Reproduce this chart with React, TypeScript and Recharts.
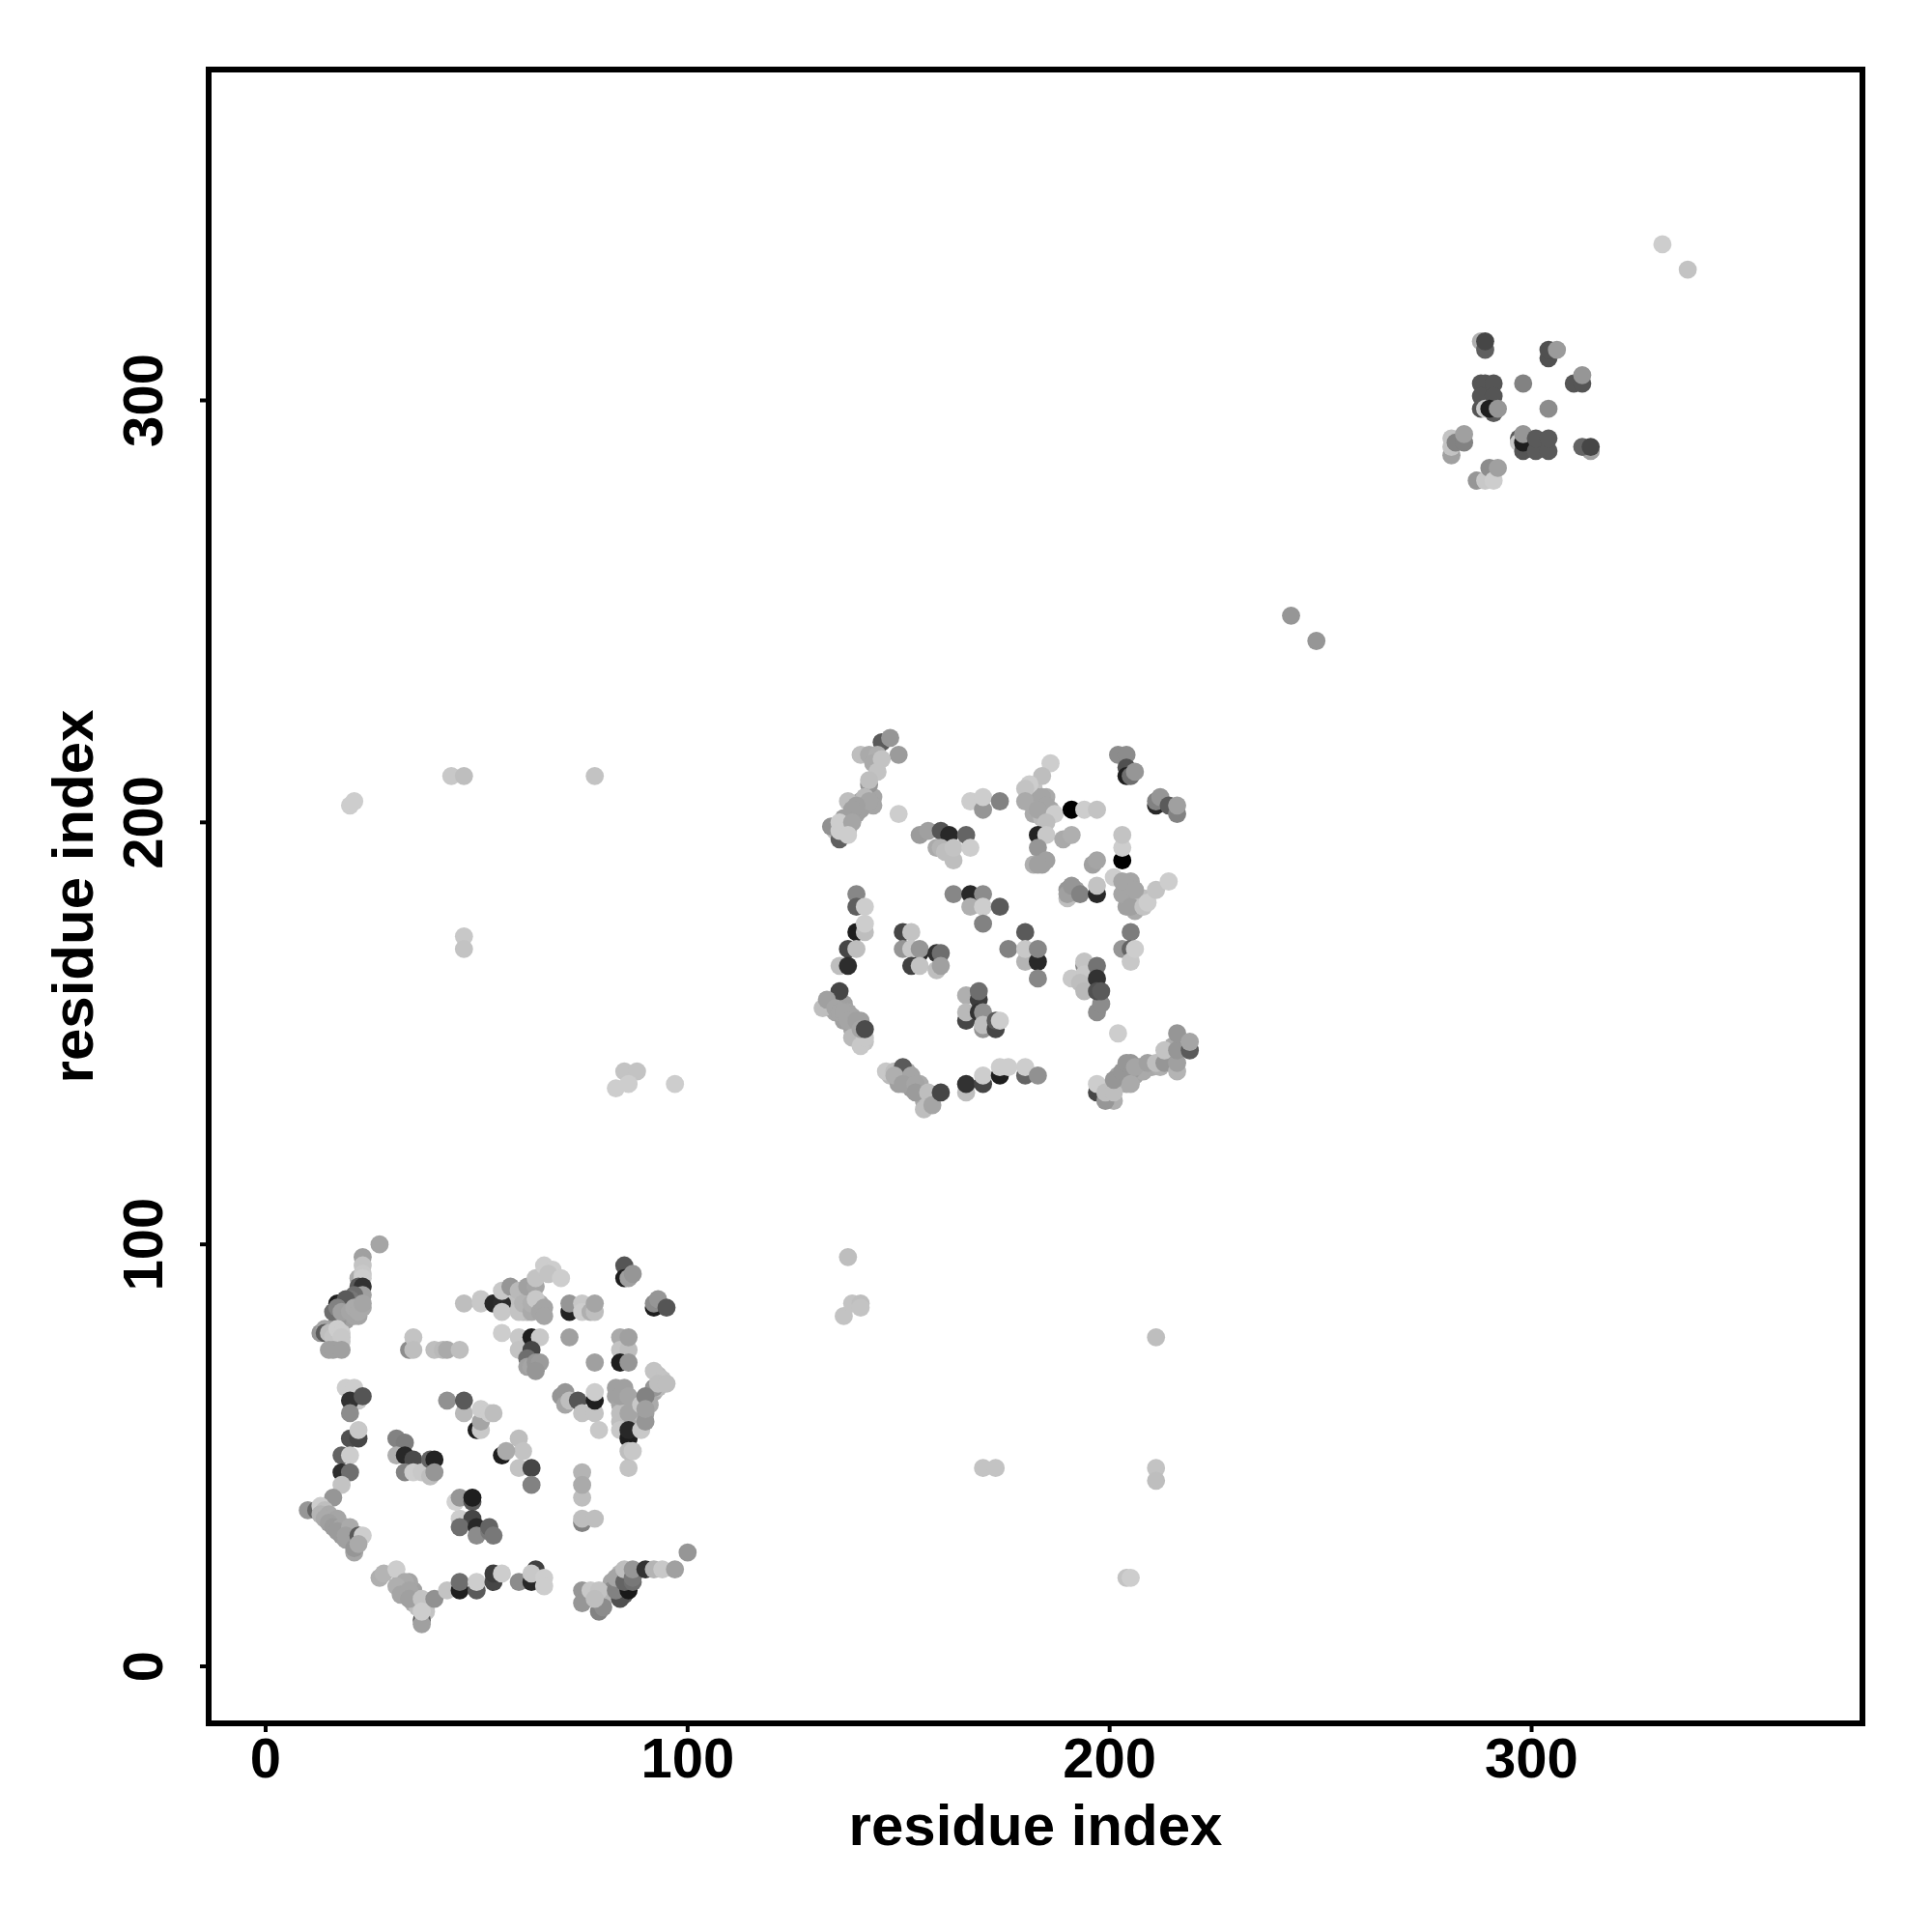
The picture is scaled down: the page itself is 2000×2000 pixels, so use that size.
import { ScatterChart, Scatter, XAxis, YAxis, ReferenceArea } from 'recharts'

// contacts as [residue i, residue j, grey level]
const strandContacts = [
  [141, 205, 165], [142, 204, 160], [144, 206, 165], [144, 204, 165], [141, 203, 160], [140, 202, 160], [138, 200, 165], [137, 199, 170],
  [136, 197, 200], [137, 197, 200], [138, 198, 190], [135, 198, 190],
  [19, 82, 160], [21, 83, 165], [23, 85, 170], [17, 82, 150], [19, 85, 150], [22, 83, 165], [16, 77, 200], [17, 77, 205], [17, 78, 205], [18, 77, 200],
  [14, 36, 165], [16, 35, 165], [15, 35, 160], [16, 34, 160], [17, 33, 155], [18, 31, 155], [19, 33, 170], [20, 31, 165], [19, 30, 160], [21, 30, 170],
  [33, 18, 160], [33, 17, 160], [35, 18, 160], [35, 15, 170], [36, 16, 185], [36, 14, 190], [38, 13, 195], [32, 20, 160], [34, 20, 165],
  [82, 20, 165], [82, 18, 140], [84, 22, 180], [84, 18, 120], [86, 20, 110], [85, 17, 90], [79, 15, 170], [78, 17, 190], [80, 17, 190], [80, 16, 180],
  [61, 88, 175], [60, 86, 185], [62, 86, 170], [62, 84, 180], [64, 85, 165], [65, 86, 170], [59, 86, 190], [61, 84, 190], [62, 88, 190], [63, 90, 160],
  [83, 64, 160], [84, 62, 165], [85, 62, 170], [86, 62, 165], [85, 65, 165], [84, 58, 190], [86, 58, 170], [85, 60, 170], [89, 60, 190], [90, 60, 160],
  [91, 64, 160], [91, 62, 170], [92, 65, 170], [93, 69, 190], [93, 66, 185],
  [134, 157, 165], [135, 155, 165], [137, 157, 160], [137, 153, 160], [138, 155, 165], [139, 154, 165], [139, 151, 165], [140, 150, 180], [141, 149, 195],
  [142, 148, 195], [139, 152, 160], [141, 153, 160],
  [148, 140, 185], [150, 140, 165], [152, 141, 165], [150, 138, 160], [152, 138, 160], [153, 137, 155], [155, 136, 160], [156, 135, 160], [156, 134, 165],
  [157, 134, 190], [155, 138, 170], [158, 135, 170],
  [200, 137, 190], [202, 138, 165], [202, 140, 165], [203, 139, 150], [204, 140, 150], [204, 138, 170], [206, 140, 165], [200, 135, 190], [201, 134, 175],
  [210, 142, 170], [212, 142, 175], [214, 145, 190], [214, 143, 190], [215, 147, 170], [215, 144, 160], [207, 142, 155], [208, 141, 170], [205, 141, 155],
  [181, 206, 170], [182, 208, 195], [182, 204, 170], [183, 206, 165], [184, 204, 165], [185, 206, 170], [186, 203, 170], [182, 202, 170], [184, 201, 185],
  [190, 184, 150], [191, 183, 160], [192, 184, 160],
  [204, 184, 160], [205, 183, 150], [204, 180, 160], [206, 181, 160], [207, 182, 170], [206, 179, 170], [205, 186, 165], [208, 182, 190],
]

const firstDomain = [
  [27, 100, 165], [23, 97, 160], [23, 95, 195], [22, 92, 170], [23, 93, 200], [23, 92, 205], [22, 90, 90], [23, 90, 50],
  [23, 88, 160], [21, 88, 110], [20, 87, 120], [17, 86, 30], [18, 86, 40], [19, 87, 90], [16, 84, 110], [17, 85, 130],
  [18, 84, 160], [20, 84, 165], [21, 85, 170], [22, 84, 170], [23, 86, 165],
  [13, 79, 150], [14, 80, 165], [14, 79, 90], [15, 79, 190], [16, 78, 195], [17, 80, 205], [18, 79, 205], [18, 78, 200],
  [15, 75, 160], [16, 75, 160], [18, 75, 160],
  [47, 86, 190], [51, 87, 200], [51, 86, 200], [54, 86, 40], [56, 86, 45], [56, 89, 200], [56, 84, 200], [58, 90, 150],
  [60, 89, 185], [60, 84, 195], [61, 86, 180], [62, 90, 160], [64, 90, 165], [64, 92, 195], [66, 95, 205], [68, 94, 205],
  [67, 93, 195], [70, 92, 205], [63, 84, 170], [63, 86, 175], [64, 87, 200], [65, 84, 165], [66, 85, 165], [66, 83, 165],
  [34, 75, 140], [35, 78, 195], [35, 75, 190], [40, 75, 190], [42, 75, 185], [43, 75, 170], [46, 75, 190],
  [19, 66, 205], [21, 66, 205], [22, 63, 200], [20, 63, 50], [23, 64, 85], [20, 60, 140],
  [20, 54, 80], [22, 54, 70], [22, 56, 200], [18, 50, 100], [20, 50, 205], [18, 46, 45], [20, 46, 110], [18, 43, 195],
  [16, 40, 150], [10, 37, 150], [12, 37, 100], [13, 38, 205], [14, 37, 190], [13, 36, 180], [15, 36, 170], [14, 35, 170],
  [17, 35, 165], [15, 34, 160], [16, 33, 155], [18, 33, 165], [17, 32, 155], [20, 33, 170], [19, 31, 160], [22, 31, 90],
  [23, 31, 205], [21, 27, 165], [21, 28, 150], [22, 29, 170],
  [31, 54, 130], [33, 53, 125], [31, 50, 175], [33, 50, 40], [35, 49, 75], [33, 46, 130], [35, 46, 205], [37, 46, 200],
  [39, 45, 190], [39, 49, 100], [40, 49, 35], [40, 46, 150],
  [43, 63, 145], [47, 60, 185], [47, 63, 90], [50, 56, 30], [51, 56, 200], [51, 58, 165], [51, 61, 205], [53, 60, 205], [54, 60, 190],
  [45, 39, 210], [46, 40, 150], [49, 39, 90], [49, 40, 30], [46, 35, 205], [49, 35, 70], [46, 33, 110], [50, 33, 40], [50, 31, 140],
  [53, 32, 120], [53, 33, 100], [54, 31, 120],
  [27, 21, 175], [28, 22, 180], [31, 23, 205], [33, 20, 170], [31, 19, 175], [32, 17, 165], [34, 18, 165], [34, 16, 160],
  [37, 11, 90], [37, 10, 160], [37, 16, 195], [37, 13, 205], [40, 16, 145], [43, 18, 195], [46, 18, 30], [46, 20, 110],
  [50, 18, 90], [50, 20, 205], [54, 20, 70], [54, 22, 60], [56, 22, 205], [60, 20, 140], [63, 20, 40], [64, 23, 65], [63, 22, 200],
  [66, 21, 205], [66, 19, 205],
  [85, 95, 85], [85, 92, 30], [86, 92, 160], [87, 93, 150], [92, 85, 30], [92, 86, 140], [93, 87, 150], [95, 85, 85],
  [72, 84, 35], [72, 86, 150], [75, 86, 200], [75, 84, 205], [77, 84, 175], [78, 84, 190], [78, 86, 165],
  [56, 79, 205], [60, 78, 200], [60, 75, 195], [63, 78, 30], [65, 78, 200], [63, 75, 70], [62, 73, 110], [62, 71, 160],
  [63, 71, 165], [64, 72, 150], [65, 72, 155], [64, 70, 150], [72, 78, 160], [78, 72, 160],
  [84, 78, 170], [84, 75, 195], [86, 75, 190], [86, 78, 160], [84, 72, 30], [86, 72, 150],
  [92, 70, 195], [94, 68, 195], [92, 66, 150], [93, 67, 190], [95, 67, 190],
  [70, 64, 150], [71, 65, 150], [71, 62, 165], [72, 63, 190], [74, 63, 85], [75, 60, 195], [78, 60, 195], [78, 63, 30], [78, 65, 205], [79, 56, 200],
  [83, 66, 160], [85, 66, 160], [84, 60, 190], [84, 64, 160], [86, 64, 165], [86, 60, 165], [84, 56, 200], [86, 54, 30], [86, 56, 40],
  [89, 56, 200], [90, 58, 150], [89, 62, 200], [90, 64, 130], [90, 61, 160], [86, 47, 195], [86, 51, 190], [87, 51, 200],
  [60, 54, 190], [61, 51, 195], [56, 50, 30], [57, 51, 170], [60, 47, 195], [63, 47, 70], [63, 43, 130],
  [75, 46, 180], [75, 40, 190], [75, 43, 170], [75, 34, 130], [75, 35, 190], [78, 35, 190],
  [75, 18, 150], [75, 15, 150], [79, 13, 130], [80, 14, 140], [77, 18, 200], [79, 18, 195], [78, 16, 190],
  [84, 16, 80], [83, 18, 130], [83, 21, 165], [86, 18, 25], [85, 20, 100], [87, 20, 110], [85, 23, 190], [87, 21, 120], [87, 23, 150],
  [90, 23, 50], [92, 23, 180], [94, 23, 200], [97, 23, 160], [100, 27, 150],
]

const secondDomain = [
  [146, 219, 90], [148, 220, 150], [150, 216, 155], [141, 216, 190], [143, 216, 170], [145, 216, 175], [144, 214, 170], [146, 215, 195],
  [145, 212, 195], [143, 209, 150], [143, 210, 190], [138, 205, 190], [142, 206, 185], [143, 205, 165], [140, 204, 160], [139, 203, 160],
  [137, 201, 160], [134, 199, 145], [136, 196, 95], [136, 198, 205], [136, 200, 205], [139, 200, 165], [138, 197, 205],
  [150, 202, 205],
  [155, 197, 155], [157, 198, 160], [160, 198, 85], [162, 197, 40], [166, 197, 100], [159, 194, 170], [160, 194, 180], [161, 193, 190],
  [163, 191, 190], [163, 194, 195], [167, 194, 205],
  [167, 205, 205], [170, 203, 150], [170, 206, 205], [174, 205, 130],
  [163, 183, 135], [167, 183, 40], [170, 183, 140], [167, 180, 175], [170, 180, 205], [174, 180, 90], [170, 176, 130], [176, 170, 130],
  [140, 183, 135], [140, 180, 95], [142, 180, 205], [140, 174, 30], [142, 174, 190], [142, 176, 205], [138, 170, 70], [140, 170, 190],
  [136, 166, 190], [138, 166, 45],
  [151, 174, 70], [153, 174, 195], [151, 170, 150], [155, 169, 40], [153, 170, 200], [155, 170, 150], [153, 166, 65], [155, 166, 195],
  [159, 169, 50], [160, 169, 110], [159, 165, 190], [160, 166, 160],
  [136, 160, 70], [132, 156, 190], [133, 158, 160], [135, 156, 165], [136, 155, 165], [137, 155, 165], [138, 153, 165], [140, 153, 160],
  [139, 149, 185], [141, 147, 200], [142, 149, 200], [141, 151, 165], [142, 151, 75],
  [166, 159, 175], [169, 158, 60], [169, 160, 110], [166, 153, 70], [166, 155, 185], [169, 155, 50], [170, 155, 145], [170, 151, 150], [170, 152, 190],
  [173, 151, 70], [173, 153, 90], [174, 153, 205],
  [147, 141, 200], [149, 141, 190], [151, 142, 90], [149, 140, 175], [153, 140, 165], [151, 138, 160], [154, 138, 165], [154, 136, 155],
  [156, 132, 190], [157, 136, 190], [158, 133, 165], [160, 136, 70],
  [166, 136, 190], [166, 138, 50], [170, 138, 70], [170, 140, 205], [174, 140, 30], [174, 142, 205], [176, 142, 205], [180, 140, 100], [180, 142, 205], [183, 140, 145],
  [186, 214, 205], [184, 211, 190], [181, 209, 205], [180, 208, 195], [180, 205, 170], [184, 206, 165], [185, 204, 165], [183, 203, 165],
  [187, 202, 205], [185, 200, 190],
  [191, 203, 0], [194, 203, 205], [197, 203, 195],
  [183, 197, 35], [185, 197, 200], [189, 196, 170], [191, 197, 175], [183, 194, 150], [182, 190, 175], [184, 190, 160], [185, 191, 160], [183, 190, 160],
  [202, 216, 140], [204, 216, 140], [204, 213, 80], [204, 211, 30], [205, 211, 110], [206, 212, 150],
  [211, 204, 40], [211, 205, 130], [212, 206, 150], [214, 204, 90], [216, 202, 130], [216, 204, 160],
  [203, 191, 0], [203, 194, 205], [203, 197, 195],
  [196, 190, 160], [197, 191, 165],
  [190, 182, 190], [190, 183, 160], [191, 185, 150], [193, 183, 130], [197, 183, 40], [197, 185, 195], [201, 187, 205], [203, 183, 165], [203, 186, 165],
  [205, 180, 160], [206, 184, 165], [208, 180, 195], [209, 181, 205], [211, 184, 195], [214, 186, 205],
  [180, 174, 90], [180, 167, 180], [180, 170, 200], [183, 167, 40], [183, 170, 135], [183, 163, 135],
  [205, 174, 125], [203, 170, 150], [205, 170, 100], [205, 167, 200], [206, 170, 205],
  [194, 166, 130], [194, 167, 195], [191, 163, 200], [194, 164, 200], [193, 162, 190], [194, 160, 185],
  [197, 166, 115], [197, 163, 50], [197, 155, 140], [198, 157, 140], [197, 160, 80], [198, 160, 90],
  [202, 150, 205],
  [197, 136, 70], [197, 138, 205], [199, 134, 150], [199, 136, 190], [201, 136, 190], [201, 139, 150], [203, 141, 150], [204, 143, 150], [205, 143, 150],
  [205, 138, 170], [206, 142, 165], [209, 143, 160], [211, 143, 190], [213, 143, 150], [213, 146, 195], [216, 141, 180], [216, 143, 160], [216, 146, 150], [216, 150, 150],
  [219, 146, 90], [219, 148, 165],
]

const thirdDomain = [
  [288, 314, 175], [289, 312, 95], [289, 314, 70], [304, 310, 80], [304, 312, 80], [306, 312, 155],
  [288, 304, 85], [289, 304, 85], [291, 304, 85], [288, 301, 85], [291, 301, 85], [288, 298, 85], [291, 297, 90], [289, 298, 200], [290, 298, 30], [292, 298, 150],
  [298, 304, 130], [304, 298, 140], [310, 304, 85], [312, 304, 85], [312, 306, 150],
  [281, 291, 195], [281, 287, 160], [281, 289, 195], [282, 290, 130], [284, 290, 130], [284, 292, 160],
  [297, 291, 90], [297, 290, 200], [298, 288, 85], [298, 290, 30], [298, 292, 150], [301, 288, 90], [301, 291, 90], [304, 288, 90], [304, 291, 90],
  [314, 288, 160], [312, 289, 100], [314, 289, 70],
  [287, 281, 150], [289, 281, 200], [290, 284, 140], [291, 281, 205], [292, 284, 160],
]

const strayContacts = [
  [331, 337, 205], [337, 331, 195], [243, 249, 150], [249, 243, 150],
  [20, 204, 205], [21, 205, 205], [44, 211, 200], [47, 211, 190], [78, 211, 195], [47, 173, 200], [47, 170, 195],
  [83, 137, 205], [85, 141, 195], [88, 141, 195], [86, 138, 205], [97, 138, 205],
  [138, 97, 190], [137, 83, 195], [139, 86, 195], [141, 86, 190], [141, 85, 195],
  [211, 78, 190], [170, 47, 195], [173, 47, 195], [211, 47, 195], [211, 44, 190], [204, 21, 195], [205, 21, 205],
]

const axisTicks = [0, 100, 200, 300]
const axisRange = [-13.5, 378.4]
const axisName = 'residue index'

const contacts = [...strandContacts, ...firstDomain, ...secondDomain, ...thirdDomain, ...strayContacts].map(([i, j, grey]) => ({
  i,
  j,
  fill: `rgb(${grey},${grey},${grey})`,
}))

const textFont = { fontFamily: 'Liberation Sans', fontWeight: 700, fontSize: 58, fill: '#000' }
const titleFont = { ...textFont, fontSize: 60 }

const ContactDot = (props: any) => <circle cx={props.cx} cy={props.cy} r={9.4} fill={props.payload.fill} />

const BottomTick = ({ x, y, payload }: any) => (
  <text x={x} y={y + 45} textAnchor="middle" {...textFont}>
    {payload.value}
  </text>
)

const LeftTick = ({ x, y, payload }: any) => (
  <text x={x - 37} y={y} textAnchor="middle" transform={`rotate(-90 ${x - 37} ${y})`} {...textFont}>
    {payload.value}
  </text>
)

export default function App() {
  return (
    <div style={{ position: 'absolute', left: 0, top: 0, width: 2000, height: 2000, background: '#fff' }}>
      <ScatterChart width={2000} height={2000} margin={{ top: 72, right: 72, bottom: 0, left: 0 }}>
        <XAxis
          type="number"
          dataKey="i"
          domain={axisRange}
          ticks={axisTicks}
          allowDataOverflow
          height={216}
          interval={0}
          tickSize={9}
          tick={BottomTick}
          axisLine={false}
          tickLine={{ stroke: '#000', strokeWidth: 4 }}
          label={{ value: axisName, position: 'insideBottom', offset: 90, style: titleFont }}
        />
        <YAxis
          type="number"
          dataKey="j"
          domain={axisRange}
          ticks={axisTicks}
          allowDataOverflow
          width={216}
          interval={0}
          tickSize={9}
          tick={LeftTick}
          axisLine={false}
          tickLine={{ stroke: '#000', strokeWidth: 4 }}
          label={{ value: axisName, angle: -90, position: 'insideLeft', offset: 75, style: { ...titleFont, textAnchor: 'middle' } }}
        />
        <Scatter data={contacts} isAnimationActive={false} shape={ContactDot} />
        <ReferenceArea x1={axisRange[0]} x2={axisRange[1]} y1={axisRange[0]} y2={axisRange[1]} fill="none" fillOpacity={0} stroke="#000" strokeWidth={6} ifOverflow="visible" />
      </ScatterChart>
    </div>
  )
}
